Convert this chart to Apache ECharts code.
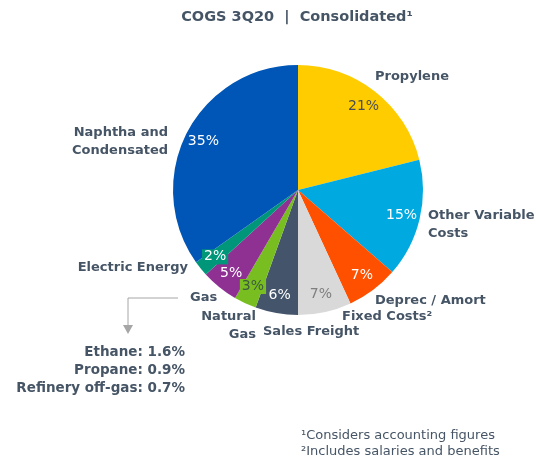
<!DOCTYPE html>
<html>
<head>
<meta charset="utf-8">
<script src="https://cdn.jsdelivr.net/npm/echarts@6/dist/echarts.min.js"></script>
<style>html,body{margin:0;padding:0;background:#fff}#c{width:536px;height:459px}</style>
</head>
<body>
<div id="c"></div>
<script>
// ---- data ----
var categories = ['Propylene', 'Other Variable\nCosts', 'Deprec / Amort', 'Fixed Costs\u00b2', 'Sales Freight', 'Natural\nGas', 'Gas', 'Electric Energy', 'Naphtha and\nCondensated'];
var shares = [21.1, 15.3, 6.7, 6.9, 5.5, 2.9, 4.8, 2.0, 34.8];
var gasBreakdownNames = ['Ethane', 'Propane', 'Refinery off-gas'];
var gasBreakdownValues = [1.6, 0.9, 0.7];
var titleText = 'COGS 3Q20  |  Consolidated\u00b9';
var footnotes = ['\u00b9Considers accounting figures', '\u00b2Includes salaries and benefits'];

// ---- styling ----
var colors = ['#FFCC00', '#00A9E0', '#FF5000', '#D9D9D9', '#44546A', '#78BE20', '#8E3193', '#00967A', '#0056B6'];
var pctColors = ['#4a4f55', '#ffffff', '#ffffff', '#7f7f7f', '#ffffff', '#3d5a40', '#ffffff', '#ffffff', '#ffffff'];
var pctBg = [null, null, null, null, null, '#78BE20', null, '#00967A', null];
var textColor = '#465566';
var labelPos = [
  [375, 77, 'left'], [428, 225, 'left'], [375, 301, 'left'], [342, 317, 'left'],
  [263, 332, 'left'], [256, 326, 'right'], [190, 298, 'left'], [188, 268, 'right'], [168, 142, 'right']
];
var CX = 298, CY = 190, R = 125;

var data = categories.map(function (c, i) {
  return { name: c, value: shares[i], itemStyle: { color: colors[i] } };
});
var pctData = categories.map(function (c, i) {
  var lab = { color: pctColors[i] };
  if (pctBg[i]) { lab.backgroundColor = pctBg[i]; lab.padding = [1, 2, 0, 2]; }
  return { name: c, value: shares[i], label: lab };
});

var chart = echarts.init(document.getElementById('c'), null, { renderer: 'canvas' });
var gasY0 = 352;
var graphics = [
  { type: 'text', x: 297, y: 17, style: { text: titleText, fill: textColor, font: 'bold 14.5px "DejaVu Sans"', textAlign: 'center', textVerticalAlign: 'middle' } },
  { type: 'polyline', shape: { points: [[178, 298], [128, 298], [128, 326]] }, style: { stroke: '#A6A6A6', lineWidth: 1, fill: null } },
  { type: 'polygon', shape: { points: [[123, 325], [133, 325], [128, 334]] }, style: { fill: '#A6A6A6' } }
];
gasBreakdownNames.forEach(function (n, i) {
  graphics.push({ type: 'text', x: 185, y: gasY0 + i * 18, style: { text: n + ': ' + gasBreakdownValues[i].toFixed(1) + '%', fill: textColor, font: 'bold 13.5px "DejaVu Sans"', textAlign: 'right', textVerticalAlign: 'middle' } });
});
footnotes.forEach(function (f, i) {
  graphics.push({ type: 'text', x: 301, y: 436 + i * 16, style: { text: f, fill: textColor, font: '13px "DejaVu Sans"', textAlign: 'left', textVerticalAlign: 'middle' } });
});

chart.setOption({
  animation: false,
  graphic: graphics,
  series: [
    {
      type: 'pie', center: [CX, CY], radius: [0, R], startAngle: 90, clockwise: true,
      silent: true, data: data, avoidLabelOverlap: false,
      label: { show: true, position: 'outside', formatter: '{b}', color: textColor, fontFamily: 'DejaVu Sans', fontWeight: 'bold', fontSize: 13, lineHeight: 18, overflow: 'none' },
      labelLine: { show: false },
      labelLayout: function (p) {
        var lp = labelPos[p.dataIndex];
        return { x: lp[0], y: lp[1], align: lp[2], verticalAlign: 'middle', width: 200, hideOverlap: false };
      }
    },
    {
      type: 'pie', center: [CX, CY], radius: [82, R], startAngle: 90, clockwise: true,
      silent: true, data: pctData, avoidLabelOverlap: false, minShowLabelAngle: 0,
      itemStyle: { color: 'rgba(0,0,0,0)' },
      label: { show: true, position: 'inside', fontFamily: 'DejaVu Sans', fontSize: 14, overflow: 'none',
        formatter: function (p) { return Math.round(p.value) + '%'; } },
      labelLine: { show: false },
      labelLayout: { hideOverlap: false }
    }
  ]
});
</script>
</body>
</html>
